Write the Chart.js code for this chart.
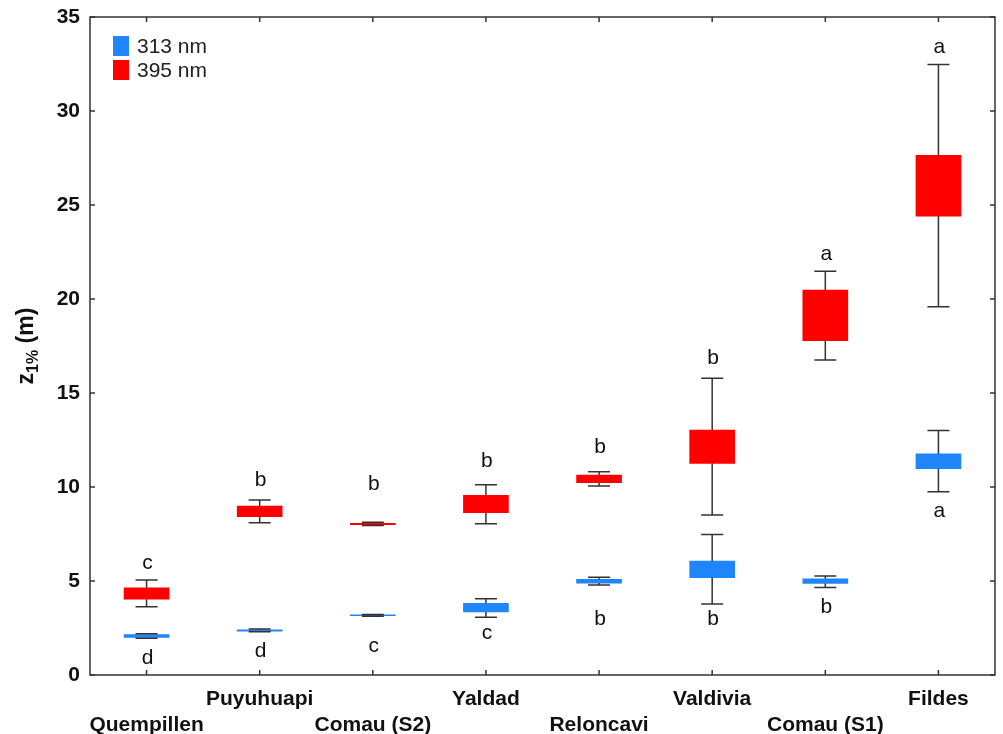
<!DOCTYPE html>
<html>
<head>
<meta charset="utf-8">
<script src="https://cdn.jsdelivr.net/npm/chart.js@4.4.1/dist/chart.umd.min.js"></script>
<style>
  html, body { margin: 0; padding: 0; background: #fff; }
  #wrap { width: 1003px; height: 734px; position: relative; }
</style>
</head>
<body>
<div id="wrap"><canvas id="myChart"></canvas></div>
<script>
const categories = ['Quempillen', 'Puyuhuapi', 'Comau (S2)', 'Yaldad', 'Reloncavi', 'Valdivia', 'Comau (S1)', 'Fildes'];

// 313 nm
const blueBoxLow = [2.0, 2.33, 3.15, 3.35, 4.89, 5.18, 4.87, 10.97];
const blueBoxHigh = [2.15, 2.4, 3.2, 3.81, 5.09, 6.06, 5.12, 11.76];
const blueWhiskerLow = [1.95, 2.3, 3.12, 3.07, 4.79, 3.78, 4.66, 9.75];
const blueWhiskerHigh = [2.2, 2.45, 3.22, 4.06, 5.2, 7.48, 5.27, 13.0];
const blueLetters = ['d', 'd', 'c', 'c', 'b', 'b', 'b', 'a'];
const blueLetterAt = [0.9, 1.24, 1.54, 2.22, 2.96, 2.96, 3.63, 8.72];

// 395 nm
const redBoxLow = [4.03, 8.42, 8.0, 8.63, 10.23, 11.26, 17.78, 24.41];
const redBoxHigh = [4.64, 8.99, 8.07, 9.56, 10.64, 13.03, 20.48, 27.64];
const redWhiskerLow = [3.63, 8.1, 7.95, 8.05, 10.05, 8.51, 16.76, 19.59];
const redWhiskerHigh = [5.05, 9.31, 8.12, 10.12, 10.81, 15.78, 21.47, 32.48];
const redLetters = ['c', 'b', 'b', 'b', 'b', 'b', 'a', 'a'];
const redLetterAt = [5.96, 10.37, 10.14, 11.35, 12.14, 16.86, 22.36, 33.42];

const yTicks = [0, 5, 10, 15, 20, 25, 30, 35];

const BLUE = '#1e86fa';
const RED = '#ff0000';
const INK = '#333333';
const FONT = '"Liberation Sans", Arial, sans-serif';

const series = [
  { label: '313 nm', color: BLUE, boxLow: blueBoxLow, boxHigh: blueBoxHigh, wLow: blueWhiskerLow, wHigh: blueWhiskerHigh, letters: blueLetters, letterAt: blueLetterAt },
  { label: '395 nm', color: RED, boxLow: redBoxLow, boxHigh: redBoxHigh, wLow: redWhiskerLow, wHigh: redWhiskerHigh, letters: redLetters, letterAt: redLetterAt }
];

// whiskers, group letters, frame with inward ticks, legend and axis title
const boxPlotExtras = {
  id: 'boxPlotExtras',
  afterDatasetsDraw(chart) {
    const ctx = chart.ctx;
    const x = chart.scales.x;
    const y = chart.scales.y;
    const area = chart.chartArea;
    ctx.save();

    // whiskers
    ctx.strokeStyle = INK;
    ctx.lineWidth = 1.5;
    const cap = 11;
    series.forEach(s => {
      categories.forEach((c, i) => {
        const px = x.getPixelForValue(i);
        const top = y.getPixelForValue(s.wHigh[i]);
        const bot = y.getPixelForValue(s.wLow[i]);
        const bTop = y.getPixelForValue(s.boxHigh[i]);
        const bBot = y.getPixelForValue(s.boxLow[i]);
        ctx.beginPath();
        ctx.moveTo(px, top); ctx.lineTo(px, bTop);
        ctx.moveTo(px, bBot); ctx.lineTo(px, bot);
        ctx.moveTo(px - cap, top); ctx.lineTo(px + cap, top);
        ctx.moveTo(px - cap, bot); ctx.lineTo(px + cap, bot);
        ctx.stroke();
      });
    });

    // group letters
    ctx.fillStyle = '#111';
    ctx.font = '21px ' + FONT;
    ctx.textAlign = 'center';
    ctx.textBaseline = 'middle';
    series.forEach(s => {
      s.letters.forEach((t, i) => {
        ctx.fillText(t, x.getPixelForValue(i) + 1, y.getPixelForValue(s.letterAt[i]));
      });
    });

    // frame
    ctx.strokeStyle = INK;
    ctx.lineWidth = 1.5;
    ctx.strokeRect(area.left, area.top, area.right - area.left, area.bottom - area.top);
    const tl = 5;
    ctx.beginPath();
    yTicks.forEach(v => {
      const py = y.getPixelForValue(v);
      ctx.moveTo(area.left, py); ctx.lineTo(area.left + tl, py);
      ctx.moveTo(area.right, py); ctx.lineTo(area.right - tl, py);
    });
    categories.forEach((c, i) => {
      const px = x.getPixelForValue(i);
      ctx.moveTo(px, area.bottom); ctx.lineTo(px, area.bottom - tl);
      ctx.moveTo(px, area.top); ctx.lineTo(px, area.top + tl);
    });
    ctx.stroke();

    // legend
    ctx.font = '21px ' + FONT;
    ctx.textAlign = 'left';
    ctx.textBaseline = 'middle';
    series.forEach((s, k) => {
      const ly = area.top + 19 + k * 24;
      ctx.fillStyle = s.color;
      ctx.fillRect(area.left + 23, ly, 16, 20);
      ctx.fillStyle = '#222';
      ctx.fillText(s.label, area.left + 47, ly + 11);
    });

    // y axis title: z with subscript 1%, then (m)
    ctx.translate(25, (area.top + area.bottom) / 2);
    ctx.rotate(-Math.PI / 2);
    ctx.fillStyle = '#111';
    ctx.textBaseline = 'alphabetic';
    const big = 'bold 23px ' + FONT;
    const small = 'bold 16px ' + FONT;
    ctx.font = big; const wz = ctx.measureText('z').width; const wm = ctx.measureText(' (m)').width;
    ctx.font = small; const ws = ctx.measureText('1%').width;
    let tx = -(wz + ws + wm) / 2;
    const base = 8;
    ctx.font = big; ctx.fillText('z', tx, base); tx += wz;
    ctx.font = small; ctx.fillText('1%', tx, base + 5); tx += ws;
    ctx.font = big; ctx.fillText(' (m)', tx, base);
    ctx.restore();
  }
};

const ctx = document.getElementById('myChart').getContext('2d');
new Chart(ctx, {
  type: 'bar',
  data: {
    labels: categories,
    datasets: series.map(s => ({
      label: s.label,
      data: s.boxLow.map((v, i) => [v, s.boxHigh[i]]),
      backgroundColor: s.color,
      borderWidth: 0,
      barThickness: 45,
      grouped: false
    }))
  },
  options: {
    responsive: true,
    maintainAspectRatio: false,
    animation: false,
    layout: { padding: { top: 17, right: 8, left: 0, bottom: 0 } },
    plugins: { legend: { display: false }, tooltip: { enabled: false } },
    scales: {
      x: {
        offset: true,
        grid: { display: false, drawTicks: false },
        border: { display: false },
        afterFit: scale => { scale.height = 59; scale.paddingLeft = 0; scale.paddingRight = 0; },
        ticks: {
          color: '#111',
          font: { family: FONT, size: 21, weight: 'bold', lineHeight: 1.2 },
          padding: 12,
          maxRotation: 0,
          autoSkip: false,
          callback: (v, i) => (i % 2 === 0 ? ['', categories[i]] : [categories[i], ''])
        }
      },
      y: {
        min: 0,
        max: 35,
        grid: { display: false, drawTicks: false },
        border: { display: false },
        afterFit: scale => { scale.width = 90; scale.paddingTop = 0; scale.paddingBottom = 0; },
        afterBuildTicks: scale => { scale.ticks = yTicks.map(v => ({ value: v })); },
        ticks: {
          color: '#111',
          font: { family: FONT, size: 21, weight: 'bold' },
          padding: 10
        }
      }
    }
  },
  plugins: [boxPlotExtras]
});
</script>
</body>
</html>
